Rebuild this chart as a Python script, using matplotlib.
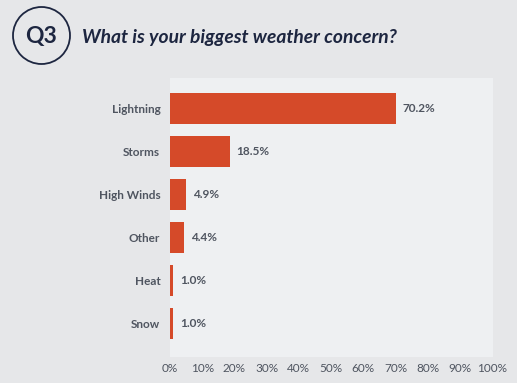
import matplotlib.pyplot as plt
from matplotlib.patches import Ellipse

# Survey answers, top to bottom
categories = ['Lightning', 'Storms', 'High Winds', 'Other', 'Heat', 'Snow']
shares = [70.2, 18.5, 4.9, 4.4, 1.0, 1.0]
ticks = [0, 10, 20, 30, 40, 50, 60, 70, 80, 90, 100]
tick_labels = [f'{t}%' for t in ticks]

W, H = 517, 383
fig_bg = '#e6e7e9'
plot_bg = '#eef0f2'
bar_color = '#d54a29'
navy = '#1d2640'
gray = '#4f5560'

plt.rcParams['font.family'] = ['Lato', 'DejaVu Sans']

fig = plt.figure(figsize=(W / 100, H / 100), dpi=100, facecolor=fig_bg)
ax = fig.add_axes([170 / W, 1 - 357 / H, 323 / W, (357 - 78) / H])
ax.set_facecolor(plot_bg)

ypos = list(range(len(categories)))
ax.barh(ypos, shares, height=0.72, color=bar_color)
for y, v in zip(ypos, shares):
    ax.text(v + 2.1, y, f'{v:.1f}%', va='center', ha='left',
            fontsize=8.5, fontweight='bold', color=gray)

ax.set_xlim(0, 100.3)
ax.set_ylim(len(categories) - 1 + 0.78, -0.71)
ax.set_yticks(ypos)
ax.set_yticklabels(categories, fontsize=8.5, fontweight='bold', color=gray)
ax.set_xticks(ticks)
ax.set_xticklabels(tick_labels, fontsize=8.5, color=gray)
ax.tick_params(axis='both', length=0)
ax.tick_params(axis='y', pad=7)
ax.tick_params(axis='x', pad=4)
for s in ax.spines.values():
    s.set_visible(False)

# header badge and question
fig.patches.append(Ellipse((41.5 / W, 1 - 35.5 / H), 57 / W, 57 / H,
                           transform=fig.transFigure, fill=False,
                           edgecolor=navy, linewidth=1.3))
fig.text(41.5 / W, 1 - 36 / H, 'Q3', ha='center', va='center',
         fontsize=16.5, fontweight='bold', color=navy)
fig.text(82 / W, 1 - 37 / H, 'What is your biggest weather concern?',
         ha='left', va='center', fontsize=13.9, fontweight='bold',
         style='italic', color=navy)

fig.savefig('out.png', dpi=100, facecolor=fig_bg)
